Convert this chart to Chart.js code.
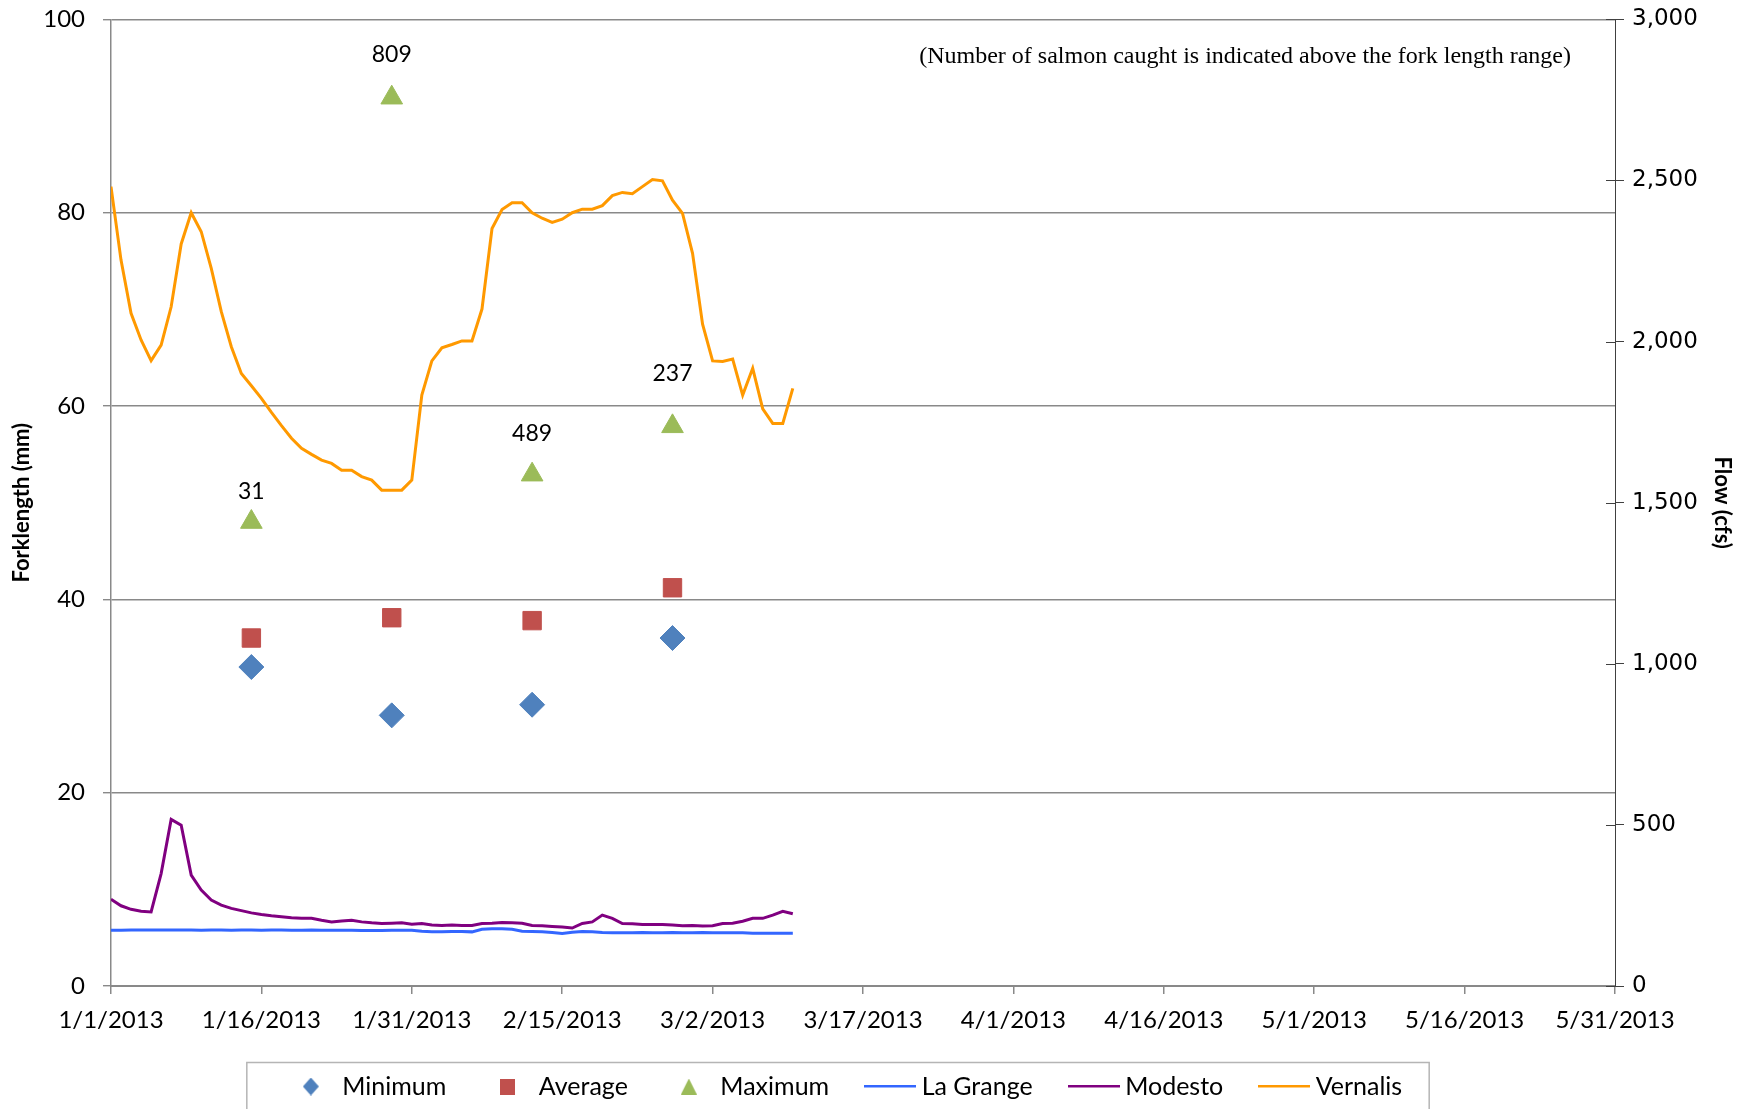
<!DOCTYPE html>
<html>
<head>
<meta charset="utf-8">
<title>Salmon fork length and river flow, 2013</title>
<script src="https://cdn.jsdelivr.net/npm/chart.js@4.4.0/dist/chart.umd.min.js"></script>
<style>
	html, body { margin: 0; padding: 0; background: #fff; }
	#wrap { width: 1750px; height: 1109px; }
</style>
</head>
<body>
<div id="wrap"><canvas id="myChart"></canvas></div>
<script>
// sample days, counted from 1/1/2013
var sampleDays = [14, 28, 42, 56];
var minimumLength = [33, 28, 29.1, 36];
var averageLength = [36, 38.1, 37.8, 41.2];
var maximumLength = [48, 91.9, 52.9, 57.9];
var salmonCaught = [31, 809, 489, 237];
var caughtLabelAt = [51.2, 96.4, 57.2, 63.4];

// daily flow (cfs), first value is 1/1/2013
var laGrange = [173, 173, 174, 174, 174, 174, 174, 174, 174, 173,
	174, 174, 173, 174, 174, 173, 174, 174, 173, 173,
	174, 173, 173, 173, 173, 172, 172, 172, 173, 173,
	173, 170, 168, 168, 169, 169, 168, 176, 178, 178,
	176, 170, 169, 168, 166, 163, 167, 169, 168, 166,
	165, 165, 165, 166, 165, 165, 166, 165, 165, 166,
	165, 165, 165, 165, 164, 164, 164, 164, 164];
var modesto = [269, 249, 238, 232, 230, 349, 517, 499, 344, 298,
	267, 251, 241, 234, 227, 222, 218, 215, 212, 210,
	210, 204, 199, 202, 204, 199, 196, 194, 195, 196,
	192, 194, 189, 188, 189, 188, 188, 194, 195, 197,
	196, 195, 188, 187, 185, 183, 180, 194, 199, 220,
	210, 194, 193, 191, 191, 191, 189, 187, 188, 186,
	187, 194, 195, 201, 210, 210, 220, 232, 224];
var vernalis = [2481, 2253, 2088, 2005, 1941, 1989, 2108, 2303, 2400, 2341,
	2227, 2093, 1984, 1901, 1863, 1824, 1780, 1739, 1700, 1669,
	1650, 1632, 1622, 1601, 1601, 1581, 1570, 1539, 1539, 1539,
	1570, 1834, 1940, 1981, 1991, 2002, 2002, 2101, 2351, 2410,
	2431, 2431, 2400, 2383, 2370, 2380, 2400, 2411, 2411, 2422,
	2453, 2463, 2459, 2481, 2503, 2499, 2439, 2398, 2274, 2054,
	1940, 1938, 1946, 1834, 1917, 1791, 1746, 1746, 1855];

var noteText = '(Number of salmon caught is indicated above the fork length range)';

function dayLabel(v) {
	var d = new Date(Date.UTC(2013, 0, 1 + v));
	return (d.getUTCMonth() + 1) + '/' + d.getUTCDate() + '/' + d.getUTCFullYear();
}

function points(xs, ys) {
	return ys.map(function (y, i) { return { x: xs[i], y: y }; });
}

function daily(ys) {
	return ys.map(function (y, i) { return { x: i, y: y }; });
}

function makeIcon(w, h, draw) {
	var c = document.createElement('canvas');
	c.width = w;
	c.height = h;
	draw(c.getContext('2d'), w, h);
	return c;
}

var legendIcons = [
	makeIcon(16, 18, function (g, w, h) {
		g.fillStyle = '#4F81BD';
		g.beginPath();
		g.moveTo(w / 2, 0); g.lineTo(w, h / 2); g.lineTo(w / 2, h); g.lineTo(0, h / 2);
		g.closePath(); g.fill();
	}),
	makeIcon(15, 16, function (g, w, h) {
		g.fillStyle = '#C0504D';
		g.fillRect(0, 0, w, h);
	}),
	makeIcon(16, 16, function (g, w, h) {
		g.fillStyle = '#9BBB59';
		g.beginPath();
		g.moveTo(w / 2, 0); g.lineTo(w, h); g.lineTo(0, h);
		g.closePath(); g.fill();
	}),
	makeIcon(52, 4, function (g, w, h) { g.fillStyle = '#3366FF'; g.fillRect(0, 0, w, 3); }),
	makeIcon(52, 4, function (g, w, h) { g.fillStyle = '#800080'; g.fillRect(0, 0, w, 3); }),
	makeIcon(52, 4, function (g, w, h) { g.fillStyle = '#FF9900'; g.fillRect(0, 0, w, 3); })
];

// keep the vertical axes from pushing the plot down
function fixedWidth(w) {
	return function (s) {
		s.width = w;
		s.paddingTop = 0;
		s.paddingBottom = 0;
	};
}

var extras = {
	id: 'extras',
	afterLayout: function (chart) {
		// legend sits a little left of the plot centre
		chart.legend.left -= 16;
		chart.legend.right -= 16;
	},
	afterDatasetsDraw: function (chart) {
		var ctx = chart.ctx;
		var xs = chart.scales.x, ys = chart.scales.y, y2 = chart.scales.y2;
		ctx.save();
		ctx.fillStyle = '#000';
		ctx.font = '23px Lato';
		ctx.textAlign = 'center';
		ctx.textBaseline = 'middle';
		for (var i = 0; i < salmonCaught.length; i++) {
			ctx.fillText(String(salmonCaught[i]), xs.getPixelForValue(sampleDays[i]), ys.getPixelForValue(caughtLabelAt[i]));
		}
		ctx.font = '24px "Liberation Serif"';
		ctx.textAlign = 'right';
		ctx.fillText(noteText, chart.chartArea.right - 44, chart.chartArea.top + 37);

		// inner half of the right axis tick marks
		ctx.strokeStyle = '#404040';
		ctx.lineWidth = 1;
		y2.ticks.forEach(function (t) {
			var py = Math.round(y2.getPixelForValue(t.value)) + 0.5;
			ctx.beginPath();
			ctx.moveTo(y2.left - 9, py);
			ctx.lineTo(y2.left, py);
			ctx.stroke();
		});
		ctx.restore();
	},
	afterDraw: function (chart) {
		var boxes = chart.legend.legendHitBoxes;
		if (!boxes || !boxes.length) return;
		var first = boxes[0], last = boxes[boxes.length - 1];
		var left = first.left + 19 - 64;
		var right = last.left + last.width + 27;
		var top = first.top + first.height / 2 - 24;
		var ctx = chart.ctx;
		ctx.save();
		ctx.strokeStyle = '#b5b5b5';
		ctx.lineWidth = 1.5;
		ctx.strokeRect(left, top, right - left, 100);
		ctx.restore();
	}
};

function draw() {
	Chart.defaults.font.family = 'Lato';
	Chart.defaults.color = '#000';

	var ctx = document.getElementById('myChart').getContext('2d');
	var myChart = new Chart(ctx, {
		type: 'line',
		data: {
			datasets: [{
				label: 'Minimum',
				data: points(sampleDays, minimumLength),
				showLine: false,
				yAxisID: 'y',
				pointStyle: 'rectRot',
				pointRadius: 12.5,
				backgroundColor: '#4F81BD',
				borderColor: '#4F81BD',
				borderWidth: 1
			}, {
				label: 'Average',
				data: points(sampleDays, averageLength),
				showLine: false,
				yAxisID: 'y',
				pointStyle: 'rect',
				pointRadius: 13,
				backgroundColor: '#C0504D',
				borderColor: '#C0504D',
				borderWidth: 1
			}, {
				label: 'Maximum',
				data: points(sampleDays, maximumLength),
				showLine: false,
				yAxisID: 'y',
				pointStyle: 'triangle',
				pointRadius: 12.5,
				backgroundColor: '#9BBB59',
				borderColor: '#9BBB59',
				borderWidth: 1
			}, {
				label: 'La Grange',
				data: daily(laGrange),
				yAxisID: 'y2',
				borderColor: '#3366FF',
				backgroundColor: '#3366FF',
				borderWidth: 3,
				pointRadius: 0,
				tension: 0
			}, {
				label: 'Modesto',
				data: daily(modesto),
				yAxisID: 'y2',
				borderColor: '#800080',
				backgroundColor: '#800080',
				borderWidth: 3,
				pointRadius: 0,
				tension: 0
			}, {
				label: 'Vernalis',
				data: daily(vernalis),
				yAxisID: 'y2',
				borderColor: '#FF9900',
				backgroundColor: '#FF9900',
				borderWidth: 3,
				pointRadius: 0,
				tension: 0
			}]
		},
		options: {
			responsive: true,
			maintainAspectRatio: false,
			animation: false,
			events: [],
			layout: { padding: { top: 19.4, left: 0, right: 0, bottom: 0 } },
			plugins: {
				tooltip: { enabled: false },
				legend: {
					position: 'bottom',
					fullSize: false,
					maxHeight: 77,
					labels: {
						usePointStyle: true,
						pointStyleWidth: 38,
						padding: 42,
						color: '#000',
						font: { family: 'Lato', size: 25 },
						generateLabels: function (chart) {
							var items = Chart.defaults.plugins.legend.labels.generateLabels(chart);
							items.forEach(function (it, i) { it.pointStyle = legendIcons[i]; });
							return items;
						}
					}
				}
			},
			scales: {
				x: {
					type: 'linear',
					min: 0,
					max: 150,
					afterFit: function (s) { s.height = 46; },
					border: { color: '#898989', width: 2 },
					grid: { drawOnChartArea: false, tickLength: 8, color: '#898989', lineWidth: 1.5 },
					ticks: {
						stepSize: 15,
						maxRotation: 0,
						autoSkip: false,
						padding: 12,
						color: '#000',
						font: { family: 'Lato', size: 24 },
						callback: function (v) { return dayLabel(v); }
					}
				},
				y: {
					position: 'left',
					min: 0,
					max: 100,
					afterFit: fixedWidth(111),
					border: { color: '#898989', width: 1.5 },
					grid: { color: '#898989', lineWidth: 1.4, tickLength: 8 },
					ticks: { stepSize: 20, padding: 18, color: '#000', font: { family: 'Lato', size: 24 } },
					title: {
						display: true,
						text: 'Forklength (mm)',
						color: '#000',
						padding: { top: 9, bottom: 0 },
						font: { family: 'Lato', size: 22, weight: 'bold' }
					}
				},
				y2: {
					position: 'right',
					min: 0,
					max: 3000,
					afterFit: fixedWidth(135),
					border: { color: '#404040', width: 1 },
					grid: { drawOnChartArea: false, color: '#404040', lineWidth: 1, tickLength: 9 },
					ticks: {
						stepSize: 500,
						padding: 8,
						color: '#000',
						font: { family: 'DejaVu Sans', size: 23 },
						callback: function (v) { return v.toLocaleString('en-US'); }
					},
					title: {
						display: true,
						text: 'Flow (cfs)',
						color: '#000',
						padding: { top: 15, bottom: 0 },
						font: { family: 'Lato', size: 22, weight: 'bold' }
					}
				}
			}
		},
		plugins: [extras]
	});
}

Promise.all([
	document.fonts.load('24px Lato'),
	document.fonts.load('bold 22px Lato'),
	document.fonts.load('24px "Liberation Serif"'),
	document.fonts.load('23px "DejaVu Sans"')
]).then(draw, draw);
</script>
</body>
</html>
